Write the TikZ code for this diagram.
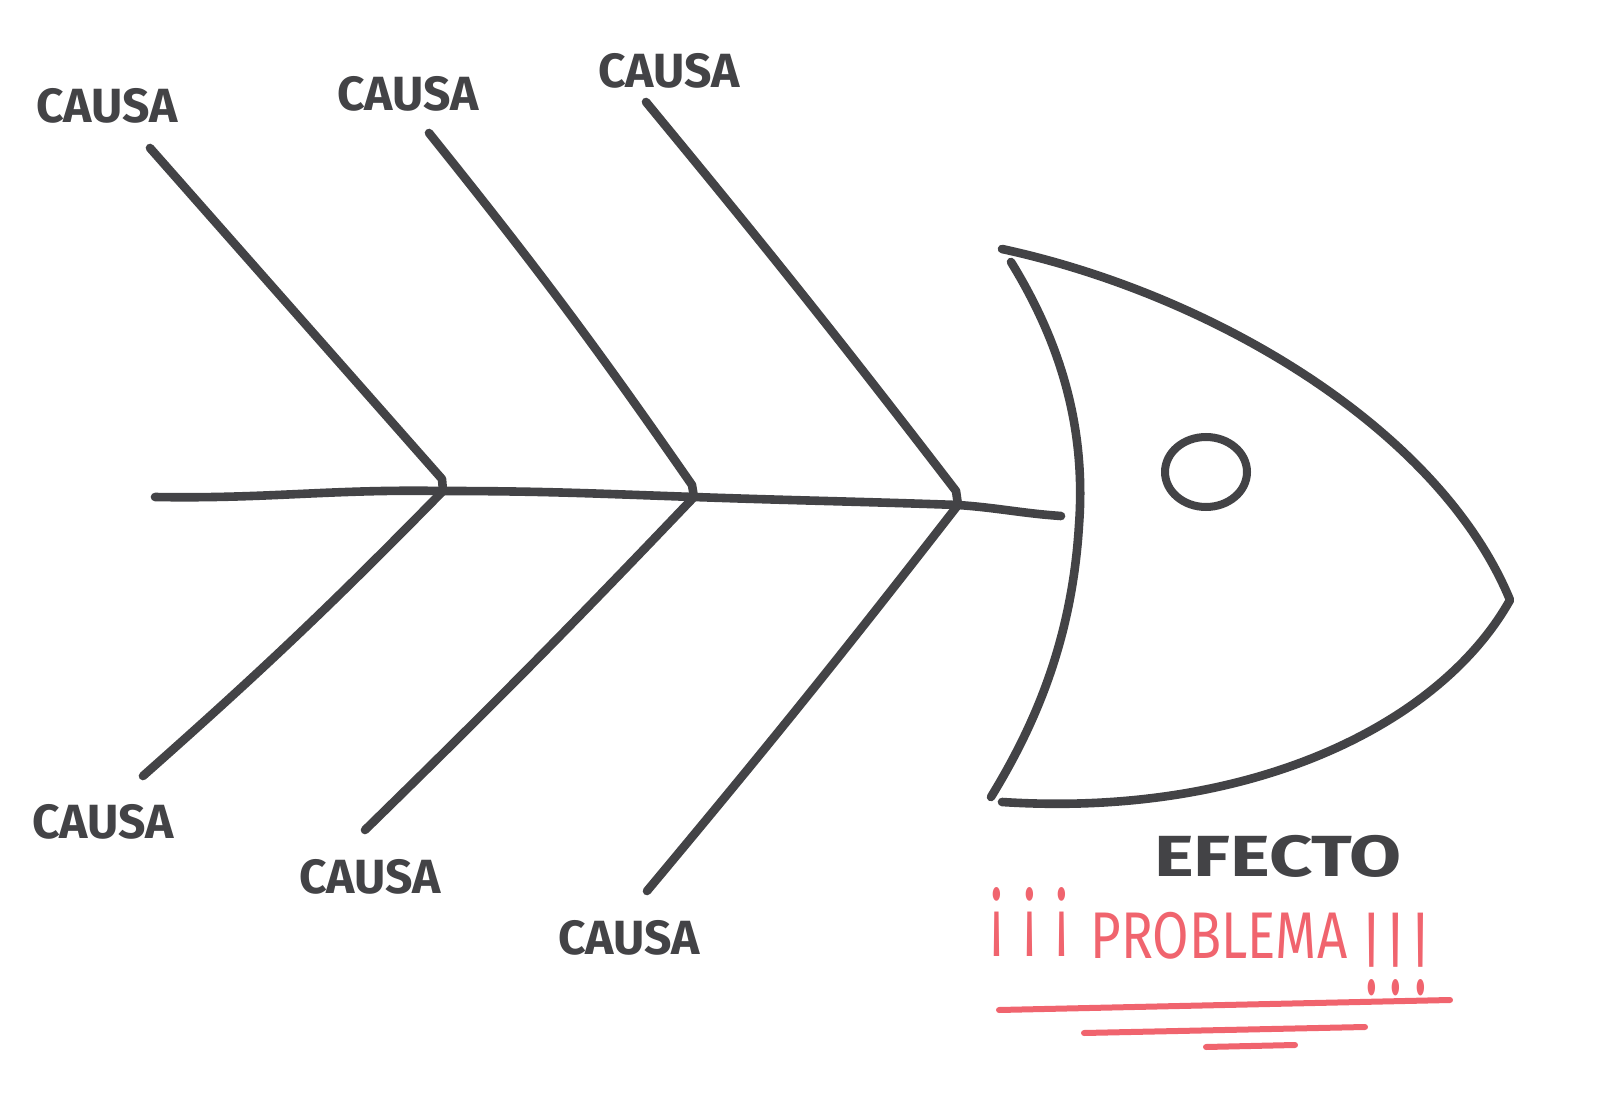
\documentclass[tikz,border=0pt]{standalone}
\usepackage{fontspec}
\usetikzlibrary{calc,shapes.geometric}
\setmainfont{Fira Sans}
\definecolor{ink}{HTML}{434346}
\definecolor{redink}{HTML}{F0646E}
\newcommand{\inv}{\raisebox{11pt}{\scalebox{0.8}[1.5]{¡}}}
\newcommand{\excl}{\raisebox{-18.4pt}{\scalebox{0.8}[1.79]{!}}}
\begin{document}
\begin{tikzpicture}[x=0.5pt,y=-0.5pt,
  bone/.style={draw=ink,line width=4.3pt,line cap=round,line join=round},
  redline/.style={draw=redink,line width=3pt,line cap=round},
  causa/.style={text=ink,font=\fontsize{24}{24}\selectfont\bfseries,inner sep=0pt},
  efecto/.style={text=ink,font=\fontsize{29}{29}\selectfont\bfseries,inner sep=0pt},
  problema/.style={text=redink,font=\fontsize{33}{33}\selectfont,inner sep=0pt}]
\useasboundingbox[fill=white] (0,0) rectangle (1600,1106);
% spine coordinates
\coordinate (tail) at (155,497);
\coordinate (j1) at (443,491);
\coordinate (j2) at (694,497);
\coordinate (j3) at (958,505);
\coordinate (send) at (1061,516);
% bone ends
\coordinate (u1) at (150,148);
\coordinate (u2) at (429,133);
\coordinate (u3) at (646,102);
\coordinate (l1) at (143,776);
\coordinate (l2) at (365,830);
\coordinate (l3) at (647,891);
% spine
\draw[bone] (tail) to[out=-1,in=179] (j1) to[out=0,in=178] (j2) to[out=-2,in=178] (j3) to[out=-4,in=176] (send);
% upper bones
\draw[bone] (u1) -- ($(j1)+(-1,-12)$) -- (j1);
\draw[bone] (u2) to[bend left=2] ($(j2)+(-2,-12)$) -- (j2);
\draw[bone] (u3) to[bend left=1] ($(j3)+(-2,-14)$) -- (j3);
% lower bones
\draw[bone] (j1) to[bend left=2] (l1);
\draw[bone] (j2) to[bend left=1] (l2);
\draw[bone] (j3) to[bend left=1] (l3);
% head
\coordinate (htop) at (1002,249);
\coordinate (itop) at (1011,262);
\coordinate (tip) at (1510,600);
\coordinate (hbot) at (1002,802);
\coordinate (ibot) at (991,797);
\draw[bone] (htop) .. controls (1215,295) and (1440,430) .. (tip)
  .. controls (1440,725) and (1250,818) .. (hbot);
\draw[bone] (itop) .. controls (1062,345) and (1086,430) .. (1079,525)
  .. controls (1072,640) and (1035,725) .. (ibot);
% eye
\node[draw=ink,line width=4pt,ellipse,minimum width=41pt,minimum height=35pt,inner sep=0pt] (eye) at (1206,472) {};
% labels
\node[causa] (c1) at (107,106) {CAUSA};
\node[causa] (c2) at (408,94) {CAUSA};
\node[causa] (c3) at (669,71) {CAUSA};
\node[causa] (c4) at (103,822) {CAUSA};
\node[causa] (c5) at (370,877) {CAUSA};
\node[causa] (c6) at (629,938) {CAUSA};
\node[efecto] (ef) at (1278,856) {\scalebox{1.3}[1]{EFECTO}};
\node[problema,anchor=base west] (pr) at (990,958)
  {\inv\hspace{10pt}\inv\hspace{10pt}\inv\hspace{11pt}\scalebox{0.8}[1]{PROBLEMA}\hspace{9pt}\excl\hspace{6pt}\excl\hspace{6pt}\excl};
% underlines
\coordinate (r1a) at (999,1010);
\coordinate (r1b) at (1450,1000);
\coordinate (r2a) at (1084,1033);
\coordinate (r2b) at (1365,1027);
\coordinate (r3a) at (1206,1047);
\coordinate (r3b) at (1295,1045);
\draw[redline] (r1a) -- (r1b);
\draw[redline] (r2a) -- (r2b);
\draw[redline] (r3a) -- (r3b);
\end{tikzpicture}
\end{document}
